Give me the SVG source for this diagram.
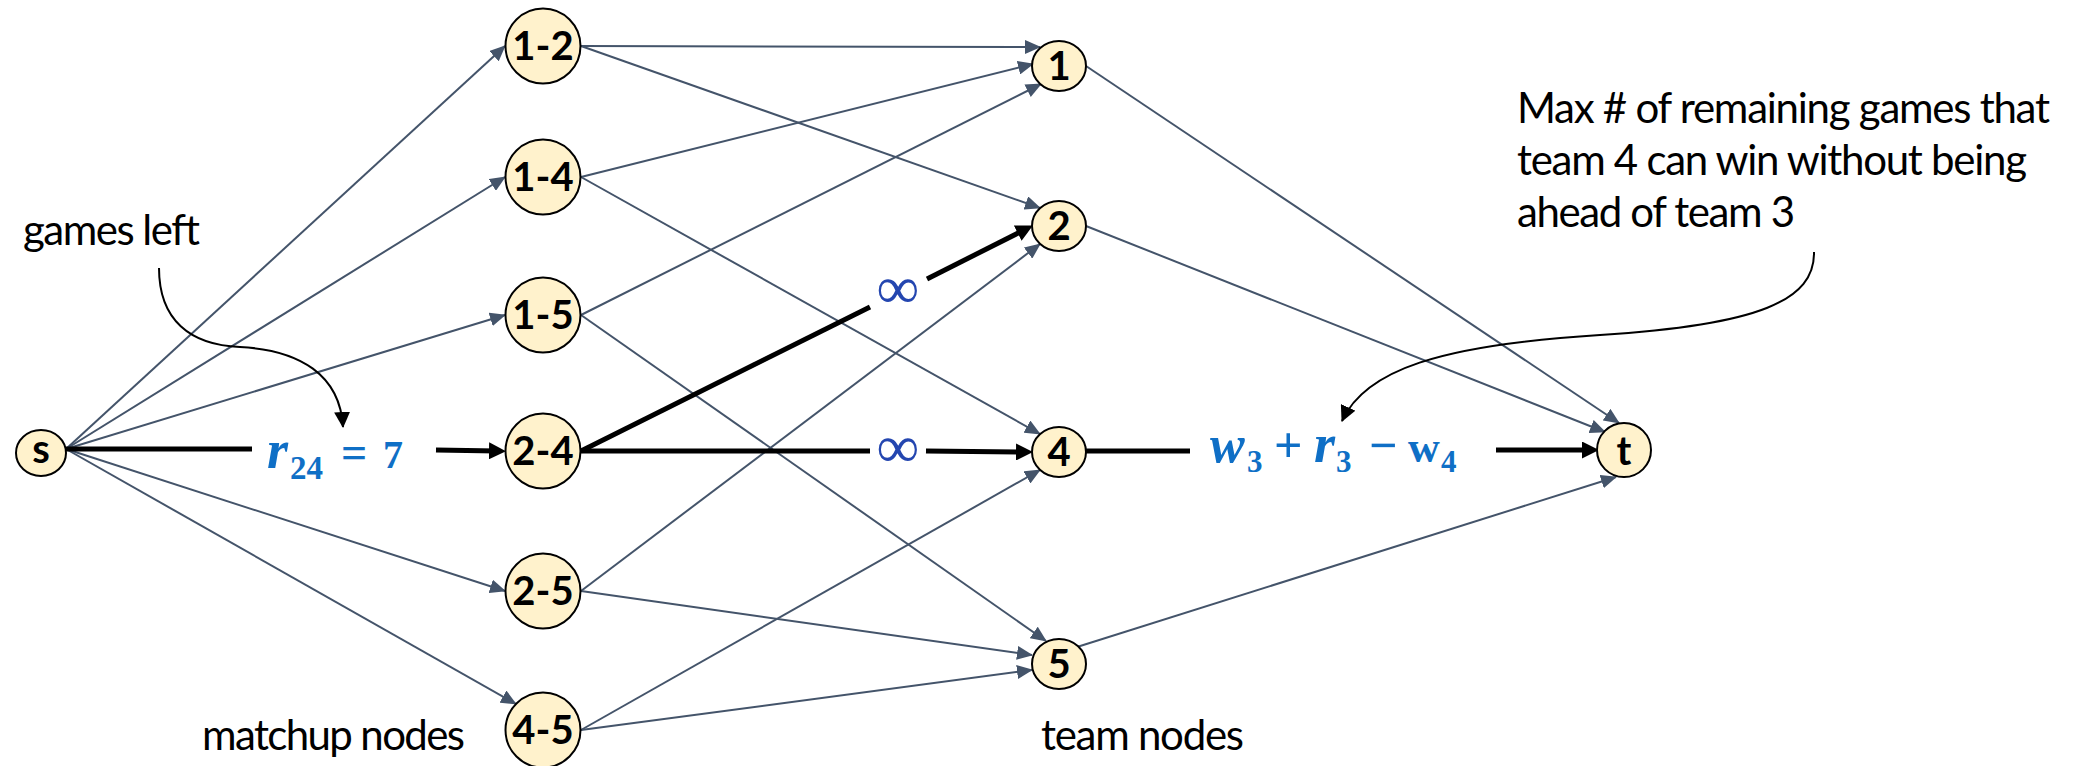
<svg xmlns="http://www.w3.org/2000/svg" width="2083" height="766" viewBox="0 0 2083 766">
<style>
.node{fill:#FFF2CC;stroke:#000;stroke-width:2}
.nl{font-family:Lato,"Liberation Sans",sans-serif;font-weight:700;font-size:40px;fill:#000;text-anchor:middle}
.e{stroke:#44546A;stroke-width:2;fill:none}
.et{stroke:#000;stroke-width:5;fill:none}
.ann{stroke:#000;stroke-width:2;fill:none}
.lbl{font-family:Lato,"Liberation Sans",sans-serif;font-size:42px;fill:#000}
.m{font-family:"Liberation Serif",serif;font-weight:700;fill:#0F6FC6}
.inf{font-family:"Liberation Serif",serif;font-size:60px;fill:#2446B0;text-anchor:middle}
</style>
<defs>
<marker id="ah" markerUnits="userSpaceOnUse" markerWidth="16" markerHeight="14" refX="15" refY="7" orient="auto"><path d="M0,0 L16,7 L0,14 z" fill="#44546A"/></marker>
<marker id="ahk" markerUnits="userSpaceOnUse" markerWidth="17" markerHeight="17" refX="8" refY="8.5" orient="auto"><path d="M0,0 L17,8.5 L0,17 z" fill="#000"/></marker>
<marker id="aha" markerUnits="userSpaceOnUse" markerWidth="16" markerHeight="16" refX="15" refY="8" orient="auto"><path d="M0,0 L16,8 L0,16 z" fill="#000"/></marker>
</defs>
<g id="connectors">
<line class="e" x1="66" y1="449" x2="505" y2="46" marker-end="url(#ah)"/>
<line class="e" x1="66" y1="449" x2="505" y2="177" marker-end="url(#ah)"/>
<line class="e" x1="66" y1="449" x2="505" y2="315" marker-end="url(#ah)"/>
<line class="e" x1="66" y1="449" x2="505" y2="591" marker-end="url(#ah)"/>
<line class="e" x1="66" y1="449" x2="516" y2="704" marker-end="url(#ah)"/>
<line class="et" x1="66" y1="449" x2="252" y2="449"/>
<line class="et" x1="436" y1="450" x2="497" y2="451" marker-end="url(#ahk)"/>
<line class="e" x1="581" y1="46" x2="1040" y2="47" marker-end="url(#ah)"/>
<line class="e" x1="581" y1="46" x2="1040" y2="208" marker-end="url(#ah)"/>
<line class="e" x1="581" y1="177" x2="1033" y2="64" marker-end="url(#ah)"/>
<line class="e" x1="581" y1="177" x2="1040" y2="434" marker-end="url(#ah)"/>
<line class="e" x1="581" y1="315" x2="1041" y2="84" marker-end="url(#ah)"/>
<line class="e" x1="581" y1="315" x2="1046" y2="641" marker-end="url(#ah)"/>
<line class="e" x1="581" y1="591" x2="1040" y2="244" marker-end="url(#ah)"/>
<line class="e" x1="581" y1="591" x2="1032" y2="655" marker-end="url(#ah)"/>
<line class="e" x1="581" y1="730" x2="1040" y2="470" marker-end="url(#ah)"/>
<line class="e" x1="581" y1="730" x2="1032" y2="670" marker-end="url(#ah)"/>
<line class="et" x1="581" y1="451" x2="870" y2="307"/>
<line class="et" x1="927" y1="279" x2="1024.9" y2="229.6" marker-end="url(#ahk)"/>
<line class="et" x1="581" y1="451" x2="870" y2="451"/>
<line class="et" x1="926" y1="451" x2="1024" y2="452" marker-end="url(#ahk)"/>
<line class="e" x1="1086" y1="66" x2="1619" y2="423" marker-end="url(#ah)"/>
<line class="e" x1="1086" y1="226" x2="1605" y2="432" marker-end="url(#ah)"/>
<line class="e" x1="1077" y1="647" x2="1616" y2="477" marker-end="url(#ah)"/>
<line class="et" x1="1086" y1="451" x2="1190" y2="451"/>
<line class="et" x1="1496" y1="450" x2="1590" y2="450" marker-end="url(#ahk)"/>
<path class="ann" d="M159,268 C159,320 190,345 240,347 C300,350 340,375 343,427" marker-end="url(#aha)"/>
<path class="ann" d="M1814,252 C1815,300 1760,325 1600,335 C1440,345 1365,370 1342,421" marker-end="url(#aha)"/>
</g>
<g id="edge-labels">
<text class="m" y="468"><tspan x="267" font-size="54" font-style="italic">r</tspan><tspan x="290" y="479" font-size="33">24</tspan><tspan x="341" y="468" font-size="46">=</tspan><tspan x="383" y="468" font-size="40">7</tspan></text>
<text class="inf" x="898" y="308">∞</text>
<text class="inf" x="898" y="467">∞</text>
<text class="m" y="462"><tspan x="1210" font-size="52" font-style="italic">w</tspan><tspan x="1247" y="472" font-size="31">3</tspan><tspan x="1274" y="462" font-size="50">+</tspan><tspan x="1314" y="462" font-size="54" font-style="italic">r</tspan><tspan x="1336" y="472" font-size="31">3</tspan><tspan x="1369" y="462" font-size="50">−</tspan><tspan x="1408" y="462" font-size="44">w</tspan><tspan x="1441" y="472" font-size="31">4</tspan></text>
</g>
<g id="node-s"><ellipse class="node" cx="41" cy="453" rx="25" ry="23"/><text class="nl" x="41" y="463">s</text></g>
<g id="node-1-2"><circle class="node" cx="543" cy="46" r="37.5"/><text class="nl" x="543" y="60">1-2</text></g>
<g id="node-1-4"><circle class="node" cx="543" cy="177" r="37.5"/><text class="nl" x="543" y="191">1-4</text></g>
<g id="node-1-5"><circle class="node" cx="543" cy="315" r="37.5"/><text class="nl" x="543" y="329">1-5</text></g>
<g id="node-2-4"><circle class="node" cx="543" cy="451" r="37.5"/><text class="nl" x="543" y="465">2-4</text></g>
<g id="node-2-5"><circle class="node" cx="543" cy="591" r="37.5"/><text class="nl" x="543" y="605">2-5</text></g>
<g id="node-4-5"><circle class="node" cx="543" cy="730" r="37.5"/><text class="nl" x="543" y="744">4-5</text></g>
<g id="node-1"><ellipse class="node" cx="1059" cy="66" rx="27" ry="25"/><text class="nl" x="1059" y="80">1</text></g>
<g id="node-2"><ellipse class="node" cx="1059" cy="226" rx="27" ry="25"/><text class="nl" x="1059" y="240">2</text></g>
<g id="node-4"><ellipse class="node" cx="1059" cy="452" rx="27" ry="25"/><text class="nl" x="1059" y="466">4</text></g>
<g id="node-5"><ellipse class="node" cx="1059" cy="664" rx="27" ry="25"/><text class="nl" x="1059" y="678">5</text></g>
<g id="node-t"><ellipse class="node" cx="1624" cy="450" rx="27" ry="27"/><text class="nl" x="1624" y="465">t</text></g>
<g id="labels">
<text class="lbl" x="23" y="245" textLength="177">games left</text>
<text class="lbl" x="202" y="750" textLength="263">matchup nodes</text>
<text class="lbl" x="1041" y="750" textLength="203">team nodes</text>
<text class="lbl" x="1517" y="123" textLength="533">Max # of remaining games that</text>
<text class="lbl" x="1517" y="175" textLength="510">team 4 can win without being</text>
<text class="lbl" x="1517" y="227" textLength="278">ahead of team 3</text>
</g>
</svg>
